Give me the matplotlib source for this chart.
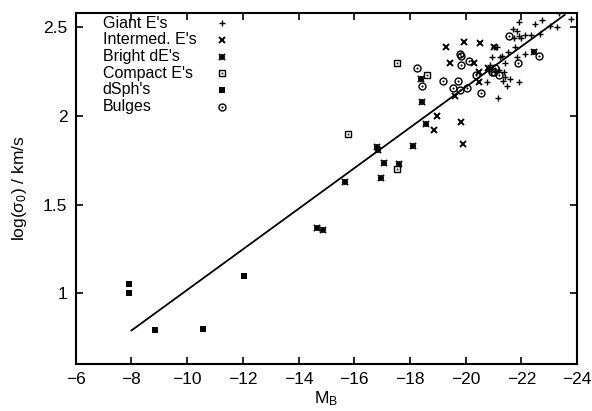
import matplotlib
matplotlib.use("Agg")
import matplotlib.pyplot as plt

plt.rcParams['font.family'] = ['Liberation Sans', 'DejaVu Sans']
plt.rcParams['mathtext.fontset'] = 'custom'
plt.rcParams['mathtext.rm'] = 'Liberation Sans'
plt.rcParams['mathtext.it'] = 'Liberation Sans'

# absolute magnitude M_B and log sigma_0 for each galaxy class
giant_M = [-23.36, -23.76, -21.92, -22.5, -22.75, -23.04, -23.29, -21.7, -21.85, -21.92,
           -22.14, -22.35, -22.68, -21.74, -21.99, -21.02, -21.13, -21.78, -21.52, -21.3,
           -21.23, -20.95, -21.85, -22.14, -20.87, -21.2, -21.38, -21.4, -21.4, -21.34,
           -21.6, -21.92, -21.49, -20.77, -21.16, -20.84]
giant_s = [2.58, 2.545, 2.53, 2.52, 2.54, 2.51, 2.50, 2.49, 2.48, 2.45,
           2.455, 2.455, 2.46, 2.44, 2.44, 2.39, 2.39, 2.39, 2.36, 2.34,
           2.33, 2.33, 2.33, 2.35, 2.29, 2.26, 2.25, 2.30, 2.22, 2.20,
           2.21, 2.19, 2.17, 2.19, 2.10, 2.26]

inter_M = [-19.29, -19.93, -20.5, -19.45, -20.3, -18.96, -18.85, -19.83, -19.9, -19.61,
           -20.48, -20.48, -20.8, -21.0]
inter_s = [2.39, 2.42, 2.41, 2.30, 2.30, 2.0, 1.92, 1.966, 1.84, 2.11,
           2.19, 2.25, 2.27, 2.39]

bright_M = [-14.66, -14.88, -15.68, -16.83, -16.85, -16.97, -17.05, -17.62, -18.09, -18.56,
            -18.42, -18.38, -22.46]
bright_s = [1.37, 1.355, 1.625, 1.825, 1.81, 1.652, 1.736, 1.73, 1.83, 1.955,
            2.08, 2.21, 2.36]

compact_M = [-15.78, -17.52, -17.52, -18.6]
compact_s = [1.90, 1.70, 2.30, 2.23]

dsph_M = [-7.9, -7.9, -8.85, -10.55, -12.05]
dsph_s = [1.05, 1.0, 0.79, 0.80, 1.10]

bulge_M = [-18.24, -18.42, -19.2, -19.54, -19.72, -19.83, -19.83, -20.05, -20.1, -20.37,
           -20.55, -19.79, -21.56, -21.05, -21.0, -21.2, -21.88, -22.64, -20.95, -19.79]
bulge_s = [2.27, 2.17, 2.20, 2.16, 2.20, 2.34, 2.29, 2.16, 2.31, 2.23,
           2.13, 2.146, 2.45, 2.27, 2.25, 2.23, 2.30, 2.34, 2.25, 2.35]

fit_M = [-8.0, -23.55]
fit_s = [0.79, 2.57]

labels = ["Giant E's", "Intermed. E's", "Bright dE's", "Compact E's", "dSph's", "Bulges"]

k = 'black'
# gnuplot-like point styles, one list of layers per class
styles = [
    [dict(marker='+', ms=5, mew=1.0, color=k)],
    [dict(marker='x', ms=4, mew=1.4, color=k)],
    [dict(marker='+', ms=5, mew=1.3, color=k), dict(marker='x', ms=4.2, mew=1.4, color=k)],
    [dict(marker='s', ms=5, mew=1.0, mfc='white', mec=k), dict(marker='s', ms=1.2, mew=0, color=k)],
    [dict(marker='s', ms=4.5, mew=0, color=k)],
    [dict(marker='o', ms=5, mew=1.0, mfc='none', mec=k), dict(marker='o', ms=1.5, mew=0, color=k)],
]
data = [(giant_M, giant_s), (inter_M, inter_s), (bright_M, bright_s),
        (compact_M, compact_s), (dsph_M, dsph_s), (bulge_M, bulge_s)]

fig = plt.figure(figsize=(5.92, 4.11), dpi=100)
ax = fig.add_axes([0.128, 0.114, 0.847, 0.854])

ax.plot(fit_M, fit_s, color=k, lw=1.3)

for (xs, ys), layers in zip(data, styles):
    for st in layers:
        ax.plot(xs, ys, ls='none', **st)

# legend drawn by hand: text left, symbol to the right
for i, (lab, layers) in enumerate(zip(labels, styles)):
    yy = (364 - 23 - i * 16.7) / 351
    ax.text(0.054, yy, lab, transform=ax.transAxes, fontsize=11.5, va='center', ha='left')
    for st in layers:
        ax.plot([0.291], [yy], ls='none', transform=ax.transAxes, **st)

ax.set_xlim(-6, -24)
ax.set_ylim(0.6, 2.58)
ax.set_xticks(range(-6, -25, -2))
ax.set_xticklabels([f'\u2212{abs(v)}' for v in range(-6, -25, -2)])
ax.set_yticks([1, 1.5, 2, 2.5])
ax.set_yticklabels(['1', '1.5', '2', '2.5'])
ax.tick_params(direction='in', top=True, right=True, length=5, width=1.2,
               labelsize=12.5, pad=6)
for s in ax.spines.values():
    s.set_linewidth(1.5)

ax.set_xlabel(r'M$_\mathregular{B}$', fontsize=12.5, labelpad=1)
ax.set_ylabel(r'log(σ$_\mathregular{0}$) / km/s', fontsize=12.5, labelpad=10)

fig.savefig('out.png', dpi=100)
